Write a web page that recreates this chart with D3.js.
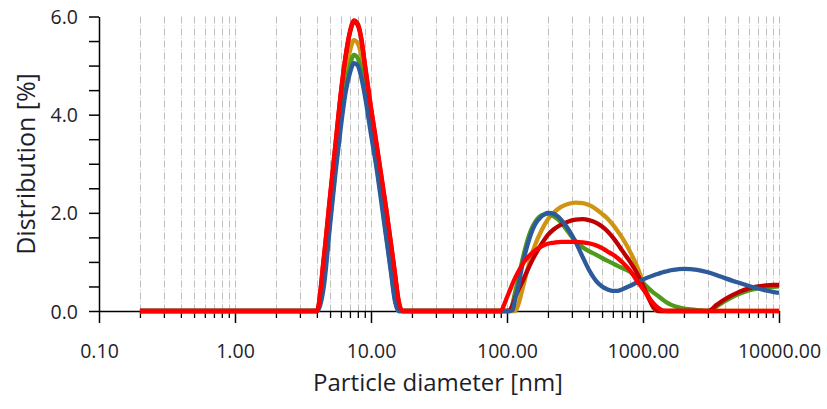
<!DOCTYPE html>
<html>
<head>
<meta charset="utf-8">
<script src="https://cdn.jsdelivr.net/npm/d3@7"></script>
<style>
  html, body { margin: 0; padding: 0; background: #ffffff; }
  svg { display: block; }
  text { font-family: "Open Sans", "Noto Sans", sans-serif; fill: #1e1e2a; }
</style>
</head>
<body>
<svg id="chart" width="827" height="409"></svg>
<script>
// ---------------- data ----------------
const diameters = [0.2, 1, 3.5, 4.0, 4.5, 5.0, 5.5, 6.0, 6.5, 7.0, 7.5, 8.0, 8.5, 9.0,
  10, 11, 12, 13, 14, 15, 16, 17, 18, 30, 85, 90, 95, 100, 105, 110, 115, 120,
  130, 140, 150, 160, 180, 200, 220, 250, 280, 320, 360, 400, 450, 500, 550, 600,
  650, 700, 800, 900, 1000, 1100, 1200, 1300, 1400, 1500, 1600, 1800, 2000, 2500,
  3000, 3500, 4000, 5000, 6000, 7000, 8000, 9000, 10000];

const goldValues = [0, 0, 0, 0, 0.8, 2.05, 3.15, 4.1, 4.85, 5.3, 5.52, 5.45, 5.2, 4.8,
  3.95, 3.2, 2.45, 1.75, 1.05, 0.45, 0.0, 0, 0, 0, 0, 0, 0, 0, 0, 0, 0, 0.1,
  0.45, 0.8, 1.1, 1.33, 1.65, 1.87, 2.0, 2.12, 2.18, 2.21, 2.2, 2.16, 2.08, 1.98, 1.88, 1.76,
  1.63, 1.5, 1.22, 0.92, 0.6, 0.3, 0.05, 0, 0, 0, 0, 0, 0, 0,
  0, 0, 0, 0, 0, 0, 0, 0, 0];

const greenValues = [0, 0, 0, 0, 0.6, 1.85, 2.95, 3.85, 4.55, 5.0, 5.22, 5.15, 4.9, 4.5,
  3.7, 2.95, 2.25, 1.5, 0.85, 0.25, 0, 0, 0, 0, 0, 0, 0, 0, 0, 0.15, 0.4, 0.6,
  1.05, 1.4, 1.65, 1.8, 1.95, 1.98, 1.93, 1.8, 1.62, 1.42, 1.3, 1.22, 1.15, 1.08, 1.02, 0.97,
  0.92, 0.88, 0.8, 0.68, 0.57, 0.46, 0.37, 0.3, 0.23, 0.17, 0.13, 0.08, 0.05, 0.02,
  0.0, 0.1, 0.2, 0.34, 0.42, 0.46, 0.48, 0.49, 0.5];

const darkRedValues = [0, 0, 0, 0, 1.07, 2.32, 3.42, 4.42, 5.17, 5.67, 5.89, 5.82, 5.52, 5.02,
  4.12, 3.37, 2.67, 2.02, 1.37, 0.75, 0.18, 0, 0, 0, 0, 0, 0, 0, 0.02, 0.12, 0.28, 0.4,
  0.6, 0.8, 0.98, 1.13, 1.37, 1.55, 1.66, 1.76, 1.82, 1.86, 1.87, 1.85, 1.8, 1.72, 1.62, 1.5,
  1.37, 1.24, 1.01, 0.78, 0.52, 0.26, 0.07, 0, 0, 0, 0, 0, 0, 0,
  0, 0.13, 0.24, 0.38, 0.46, 0.5, 0.52, 0.53, 0.53];

const blueValues = [0, 0, 0, 0, 0.5, 1.75, 2.85, 3.75, 4.45, 4.85, 5.05, 5.0, 4.75, 4.4,
  3.6, 2.9, 2.15, 1.45, 0.8, 0.2, 0, 0, 0, 0, 0, 0, 0, 0, 0, 0.02, 0.25, 0.45,
  0.95, 1.3, 1.57, 1.75, 1.93, 2.0, 1.98, 1.86, 1.68, 1.4, 1.1, 0.84, 0.62, 0.5, 0.44, 0.41,
  0.41, 0.44, 0.51, 0.58, 0.64, 0.69, 0.73, 0.76, 0.79, 0.81, 0.83, 0.85, 0.86, 0.84,
  0.79, 0.73, 0.67, 0.58, 0.51, 0.46, 0.42, 0.39, 0.37];

const redValues = [0, 0, 0, 0, 1.1, 2.35, 3.45, 4.45, 5.2, 5.7, 5.92, 5.85, 5.55, 5.05,
  4.15, 3.4, 2.7, 2.05, 1.4, 0.78, 0.2, 0, 0, 0, 0, 0, 0.12, 0.28, 0.42, 0.56, 0.68, 0.78,
  0.95, 1.07, 1.16, 1.23, 1.32, 1.37, 1.39, 1.41, 1.41, 1.41, 1.40, 1.38, 1.34, 1.28, 1.21, 1.15,
  1.08, 1.0, 0.83, 0.62, 0.45, 0.28, 0.15, 0.06, 0.01, 0, 0, 0, 0, 0,
  0, 0, 0, 0, 0, 0, 0, 0, 0];

// drawing order (first is bottom-most)
const seriesValues = [goldValues, greenValues, darkRedValues, blueValues, redValues];
const seriesColors = ["#cf9512", "#4f9a1c", "#c00000", "#2d5a9b", "#ff0000"];

const xTickValues = [0.1, 1, 10, 100, 1000, 10000];
const xTickLabels = ["0.10", "1.00", "10.00", "100.00", "1000.00", "10000.00"];
const yTickValues = [0, 0.5, 1, 1.5, 2, 2.5, 3, 3.5, 4, 4.5, 5, 5.5, 6];
const yLabelValues = [0, 2, 4, 6];
const xTitle = "Particle diameter [nm]";
const yTitle = "Distribution [%]";

// ---------------- chart ----------------
const svg = d3.select("#chart");
const plotLeft = 99, plotRight = 779, plotTop = 16.5, plotBottom = 311;

const x = d3.scaleLog().domain([0.1, 10000]).range([plotLeft, plotRight]);
const y = d3.scaleLinear().domain([0, 6]).range([plotBottom, plotTop]);

// minor positions for grid / minor ticks
const minorVals = [];
for (let e = -1; e < 4; e++) {
  for (let m = 2; m <= 9; m++) minorVals.push(m * Math.pow(10, e));
}
const gridVals = minorVals.concat([1, 10, 100, 1000, 10000]);

// grid lines
svg.append("g")
  .selectAll("line")
  .data(gridVals)
  .join("line")
  .attr("x1", d => Math.round(x(d)) + 0.5)
  .attr("x2", d => Math.round(x(d)) + 0.5)
  .attr("y1", plotTop)
  .attr("y2", plotBottom)
  .attr("stroke", "#bdbdbd")
  .attr("stroke-width", 1)
  .attr("stroke-dasharray", "7,2,1,2");

// x axis minor ticks
svg.append("g")
  .attr("transform", `translate(0,${plotBottom})`)
  .call(d3.axisBottom(x).tickValues(minorVals).tickFormat("").tickSize(7).tickSizeOuter(0))
  .call(g => g.select(".domain").remove())
  .call(g => g.selectAll("line").attr("stroke", "#000").attr("stroke-width", 1.3));

// x axis major ticks + labels
const xAxisG = svg.append("g")
  .attr("transform", `translate(0,${plotBottom})`)
  .call(d3.axisBottom(x).tickValues(xTickValues)
    .tickFormat((d, i) => xTickLabels[i]).tickSize(12).tickSizeOuter(0));
xAxisG.select(".domain").attr("stroke", "#000").attr("stroke-width", 1.5);
xAxisG.selectAll(".tick line").attr("stroke", "#000").attr("stroke-width", 1.5);
xAxisG.selectAll(".tick text")
  .attr("y", 47).attr("dy", 0)
  .style("font-size", "19.5px")
  .style("font-family", '"Open Sans", "Noto Sans", sans-serif')
  .attr("fill", "#1e1e2a");

// y axis
const yAxisG = svg.append("g")
  .attr("transform", `translate(${plotLeft},0)`)
  .call(d3.axisLeft(y).tickValues(yTickValues)
    .tickFormat(d => yLabelValues.includes(d) ? d.toFixed(1) : "")
    .tickSize(10).tickSizeOuter(0));
yAxisG.select(".domain").attr("stroke", "#000").attr("stroke-width", 1.5);
yAxisG.selectAll(".tick line").attr("stroke", "#000").attr("stroke-width", 1.5);
yAxisG.selectAll(".tick text")
  .attr("x", -21).attr("dy", "0.36em")
  .style("font-size", "19.5px")
  .style("font-family", '"Open Sans", "Noto Sans", sans-serif')
  .attr("fill", "#1e1e2a");

// series lines
const line = d3.line()
  .x((d, i) => x(diameters[i]))
  .y(d => y(d))
  .curve(d3.curveMonotoneX);

svg.append("g")
  .selectAll("path")
  .data(seriesValues)
  .join("path")
  .attr("d", d => line(d))
  .attr("fill", "none")
  .attr("stroke", (d, i) => seriesColors[i])
  .attr("stroke-width", 4.3)
  .attr("stroke-linejoin", "round")
  .attr("stroke-linecap", "butt");

// axis titles
svg.append("text")
  .attr("x", 438).attr("y", 391)
  .attr("text-anchor", "middle")
  .style("font-size", "24px")
  .text(xTitle);

svg.append("text")
  .attr("transform", "translate(35,164) rotate(-90)")
  .attr("text-anchor", "middle")
  .style("font-size", "25px")
  .text(yTitle);
</script>
</body>
</html>
